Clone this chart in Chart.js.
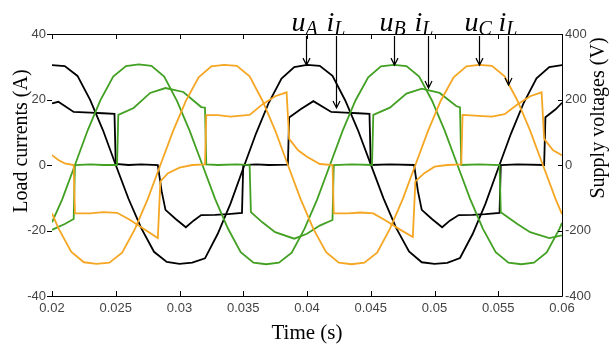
<!DOCTYPE html>
<html><head><meta charset="utf-8">
<script src="https://cdn.jsdelivr.net/npm/chart.js@4.4.1/dist/chart.umd.min.js"></script>
<style>html,body{margin:0;padding:0;background:#fff}canvas{display:block}</style>
</head><body>
<canvas id="c" width="614" height="349"></canvas>
<script>
// ---- tick labels ----
const xTicks = [0.02,0.025,0.03,0.035,0.04,0.045,0.05,0.055,0.06];
const xTickLabels = ['0.02','0.025','0.03','0.035','0.04','0.045','0.05','0.055','0.06'];
const iTicks = [-40,-20,0,20,40];
const iTickLabels = ['-40','-20','0','20','40'];
const vTicks = [-400,-200,0,200,400];
const vTickLabels = ['-400','-200','0','200','400'];

// ---- supply voltages (V) ----
const tUA = [0.020,0.021,0.022,0.023,0.024,0.025,0.026,0.027,0.028,0.029,0.030,0.031,0.032,0.033,0.034,0.035,0.036,0.037,0.038,0.039,0.040,0.041,0.042,0.043,0.044,0.045,0.046,0.047,0.048,0.049,0.050,0.051,0.052,0.053,0.054,0.055,0.056,0.057,0.058,0.059,0.060];
const uA = [305,302,272,198,106,0,-103,-193,-265,-296,-302,-298,-285,-210,-118,-10,96,190,264,299,306,303,272,197,106,2,-102,-193,-264,-297,-302,-299,-284,-210,-118,-10,96,190,265,299,305];
const tUB = [0.0200,0.0208,0.0218,0.0228,0.0238,0.0248,0.0258,0.0268,0.0278,0.0288,0.0298,0.0308,0.0318,0.0328,0.0338,0.0348,0.0358,0.0368,0.0378,0.0388,0.0398,0.0408,0.0418,0.0428,0.0438,0.0448,0.0458,0.0468,0.0478,0.0488,0.0498,0.0508,0.0518,0.0528,0.0538,0.0548,0.0558,0.0568,0.0578,0.0588,0.0598,0.0600];
const uB = [-175,-105,0,106,198,270,302,307,303,270,196,104,0,-104,-194,-266,-298,-303,-298,-268,-195,-105,0,105,197,268,301,306,302,270,197,105,0,-104,-195,-266,-298,-303,-298,-267,-195,-177];
const tUC = [0.0200,0.0205,0.0215,0.0225,0.0235,0.0245,0.0255,0.0265,0.0275,0.0285,0.0295,0.0305,0.0315,0.0325,0.0335,0.0345,0.0355,0.0365,0.0375,0.0385,0.0395,0.0405,0.0415,0.0425,0.0435,0.0445,0.0455,0.0465,0.0475,0.0485,0.0495,0.0505,0.0515,0.0525,0.0535,0.0545,0.0555,0.0565,0.0575,0.0585,0.0595,0.0600];
const uC = [-148,-193,-265,-297,-302,-298,-268,-196,-105,0,104,196,268,301,306,303,271,197,106,0,-104,-195,-266,-298,-303,-298,-268,-195,-105,0,105,197,268,301,306,303,271,197,105,0,-104,-150];

// ---- load currents (A) ----
const tIA = [0.0200,0.0205,0.0210,0.0217,0.0230,0.0240,0.0249,0.0250,0.0260,0.0270,0.0283,0.0286,0.0289,0.0297,0.0305,0.0311,0.0317,0.0328,0.0338,0.0349,0.0350,0.0360,0.0370,0.0385,0.0386,0.0395,0.0405,0.0419,0.0430,0.0440,0.0449,0.0450,0.0465,0.0484,0.0487,0.0490,0.0498,0.0506,0.0512,0.0519,0.0530,0.0540,0.0551,0.0552,0.0565,0.0586,0.0587,0.0595,0.0600];
const iA = [18.8,19.3,18.0,16.2,16.0,15.8,15.6,0.3,0,0.2,0,-8,-13.7,-16.5,-19,-17,-15.3,-15.2,-15,-14.6,0,0.2,0,0.1,14.5,17,19.5,16.2,16.0,15.8,15.6,0,0.2,0,-8,-13.7,-16.5,-19,-17,-15.3,-15.2,-15,-14.6,0,0.2,0,14.6,17,19];
const tIB = [0.0200,0.0210,0.0217,0.0218,0.0230,0.0240,0.0251,0.0252,0.0264,0.0277,0.0289,0.0303,0.0317,0.0320,0.0321,0.0330,0.0345,0.0355,0.0356,0.0365,0.0375,0.0390,0.0400,0.0410,0.0420,0.0421,0.0435,0.0451,0.0452,0.0465,0.0478,0.0490,0.0504,0.0517,0.0520,0.0521,0.0535,0.0551,0.0552,0.0565,0.0575,0.0590,0.0600];
const iB = [-19.8,-18,-16.5,0,0.2,0,0,15.3,17.4,22,23.5,22.3,17.7,17.5,0.2,0,0.2,0,-14.4,-17.5,-20.5,-22.5,-21,-18.5,-16.8,0,0.2,0,15.3,17.5,21.8,23.3,22,18,17.6,0,0.2,0,-14.4,-18,-20.5,-22.3,-21.5];
const tIC = [0.0200,0.0205,0.0210,0.0217,0.0218,0.0230,0.0240,0.0251,0.0260,0.0270,0.0283,0.0285,0.0291,0.0300,0.0310,0.0320,0.0321,0.0330,0.0340,0.0355,0.0365,0.0375,0.0384,0.0386,0.0393,0.0400,0.0410,0.0420,0.0421,0.0432,0.0442,0.0452,0.0462,0.0472,0.0483,0.0485,0.0492,0.0500,0.0510,0.0521,0.0522,0.0535,0.0545,0.0555,0.0565,0.0575,0.0584,0.0586,0.0593,0.0600];
const iC = [3.0,1.5,0.5,0,-14.8,-14.8,-14.4,-14.6,-16.5,-19,-22.3,-5,-2.5,-0.8,0,0.2,15.2,15.2,14.8,15.3,18.5,21,22.2,8,4.5,2.5,0.3,0,-14.8,-14.8,-14.5,-14.8,-17,-19.5,-22,-5,-2.5,-0.5,0,0.2,15.3,15,14.8,15.5,18.5,21,22.2,8,4.5,3];

// ---- annotations (arrow tips in data units) ----
const annSub = ['A','B','C'];
const uArrowT = [0.0399,0.0468,0.0535];
const uArrowV = [305,305,305];
const iArrowT = [0.0423,0.0495,0.0558];
const iArrowI = [17.4,23.5,24.4];

const BLACK = '#000000', GREEN = '#42a023', ORANGE = '#f5a623';
const xy = (ts, vs) => ts.map((t, k) => ({x: t, y: vs[k]}));

const serif = '"Liberation Serif","Times New Roman",serif';
const sans = '"Liberation Sans",Arial,sans-serif';

const framePlugin = {
  id: 'frame',
  afterDraw(chart) {
    const ctx = chart.ctx, a = chart.chartArea;
    const sx = chart.scales.x, sy = chart.scales.y, sv = chart.scales.yV;
    ctx.save();
    ctx.strokeStyle = '#000'; ctx.lineWidth = 1;
    ctx.beginPath();
    ctx.moveTo(a.left, a.top + 0.5); ctx.lineTo(a.right + 0.5, a.top + 0.5);
    ctx.lineTo(a.right + 0.5, a.bottom + 0.5); ctx.lineTo(a.left, a.bottom + 0.5);
    xTicks.forEach(v => {
      const px = Math.round(sx.getPixelForValue(v)) + 0.5;
      ctx.moveTo(px, a.bottom); ctx.lineTo(px, a.bottom - 5);
      ctx.moveTo(px, a.top); ctx.lineTo(px, a.top + 5);
    });
    iTicks.forEach(v => {
      const py = Math.round(sy.getPixelForValue(v)) + 0.5;
      ctx.moveTo(a.left - 5, py); ctx.lineTo(a.left, py);
    });
    vTicks.forEach(v => {
      const py = Math.round(sv.getPixelForValue(v)) + 0.5;
      ctx.moveTo(a.right - 4, py); ctx.lineTo(a.right, py);
    });
    ctx.stroke();

    // axis titles
    ctx.fillStyle = '#000';
    ctx.textAlign = 'center'; ctx.textBaseline = 'middle';
    ctx.font = '21px ' + serif;
    ctx.fillText('Time (s)', (a.left + a.right) / 2, 333);
    ctx.font = '20px ' + serif;
    ctx.save(); ctx.translate(22, 141); ctx.rotate(-Math.PI / 2);
    ctx.fillText('Load currents (A)', 0, 0); ctx.restore();
    ctx.save(); ctx.translate(599, 118); ctx.rotate(-Math.PI / 2);
    ctx.fillText('Supply voltages (V)', 0, 0); ctx.restore();

    // annotations
    ctx.textAlign = 'left'; ctx.textBaseline = 'alphabetic';
    const drawLbl = (x, y, main, sub) => {
      ctx.font = 'italic 28px ' + serif;
      ctx.fillText(main, x, y);
      const w = ctx.measureText(main).width;
      ctx.font = 'italic 20px ' + serif;
      ctx.fillText(sub, x + w, y + 4);
    };
    const arrow = (x, y0, y1) => {
      ctx.beginPath();
      ctx.moveTo(x, y0); ctx.lineTo(x, y1);
      ctx.moveTo(x - 3.5, y1 - 7); ctx.lineTo(x, y1); ctx.lineTo(x + 3.5, y1 - 7);
      ctx.stroke();
    };
    ctx.lineWidth = 1.2; ctx.strokeStyle = '#000';
    annSub.forEach((s, k) => {
      const ux = Math.round(sx.getPixelForValue(uArrowT[k])) + 0.5;
      const uy = sv.getPixelForValue(uArrowV[k]);
      const ix = Math.round(sx.getPixelForValue(iArrowT[k])) + 0.5;
      const iy = sy.getPixelForValue(iArrowI[k]);
      drawLbl(ux - 15, 31, 'u', s);
      drawLbl(ix - (k === 1 ? 14 : 10), 31, 'i', 'L');
      arrow(ux, 36, uy);
      arrow(ix, 36, iy);
    });
    ctx.restore();
  }
};

const lineDs = (label, data, color, axis) => ({
  label, data, yAxisID: axis, borderColor: color, borderWidth: 1.8,
  pointRadius: 0, fill: false, tension: 0, showLine: true
});

const tickFont = {family: sans, size: 13};

new Chart(document.getElementById('c'), {
  type: 'scatter',
  data: {
    datasets: [
      lineDs('u_C', xy(tUC, uC), ORANGE, 'yV'),
      lineDs('i_C', xy(tIC, iC), ORANGE, 'y'),
      lineDs('u_B', xy(tUB, uB), GREEN, 'yV'),
      lineDs('i_B', xy(tIB, iB), GREEN, 'y'),
      lineDs('u_A', xy(tUA, uA), BLACK, 'yV'),
      lineDs('i_A', xy(tIA, iA), BLACK, 'y')
    ]
  },
  options: {
    responsive: false, animation: false, devicePixelRatio: 1,
    layout: {padding: {top: 34, left: 0, right: 0, bottom: 0}},
    plugins: {legend: {display: false}, tooltip: {enabled: false}},
    scales: {
      x: {
        type: 'linear', position: 'bottom', min: 0.02, max: 0.06,
        grid: {display: false, drawTicks: false}, border: {display: false},
        afterBuildTicks: s => { s.ticks = xTicks.map(v => ({value: v})); },
        afterFit: s => { s.height = 53; },
        ticks: {padding: 5, color: '#444', font: tickFont,
          maxRotation: 0, autoSkip: false, callback: (v, i) => xTickLabels[i]}
      },
      y: {
        type: 'linear', position: 'left', min: -40, max: 40,
        grid: {display: false, drawTicks: false}, border: {display: false},
        afterBuildTicks: s => { s.ticks = iTicks.map(v => ({value: v})); },
        afterFit: s => { s.width = 52; },
        ticks: {padding: 6, color: '#444', font: tickFont,
          autoSkip: false, callback: (v, i) => iTickLabels[i]}
      },
      yV: {
        type: 'linear', position: 'right', min: -400, max: 400,
        grid: {display: false, drawTicks: false}, border: {display: false},
        afterBuildTicks: s => { s.ticks = vTicks.map(v => ({value: v})); },
        afterFit: s => { s.width = 52; },
        ticks: {padding: 3, color: '#444', font: tickFont,
          autoSkip: false, callback: (v, i) => vTickLabels[i]}
      }
    }
  },
  plugins: [framePlugin]
});
</script>
</body></html>
